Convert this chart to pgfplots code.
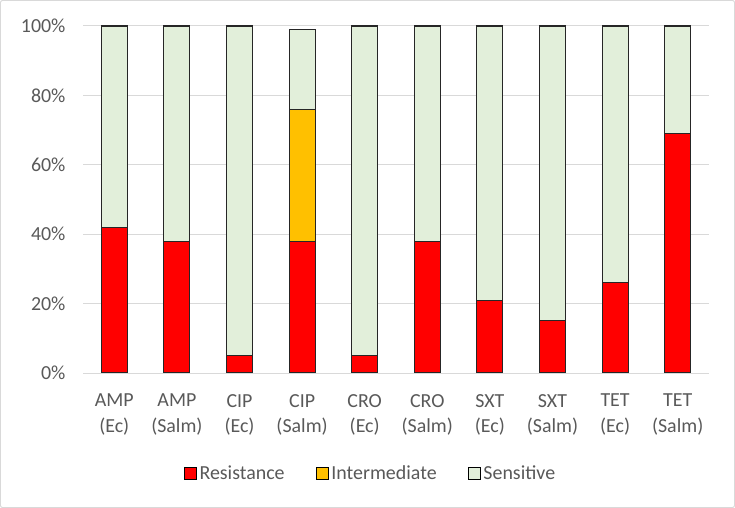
\documentclass[border=0pt]{standalone}
\usepackage{pgfplots}
\pgfplotsset{compat=1.18}
\usepackage{pgfplotstable}
\usepackage{fontspec}
\setmainfont{Carlito}
\definecolor{txt}{HTML}{595959}
\definecolor{gridc}{HTML}{D9D9D9}
\definecolor{resc}{HTML}{FF0000}
\definecolor{intc}{HTML}{FFC000}
\definecolor{senc}{HTML}{E2EFDA}
\pgfplotstableread{
x R I S
0 42 0 58
1 38 0 62
2 5 0 95
3 38 38 23
4 5 0 95
5 38 0 62
6 21 0 79
7 15 0 85
8 26 0 74
9 69 0 31
}\data
\begin{document}
\begin{tikzpicture}
\path[use as bounding box] (0,0) rectangle (735bp,508bp);
\draw[gridc, line width=1bp, rounded corners=2bp] (0.5bp,0.5bp) rectangle (734.5bp,507.5bp);
\begin{axis}[
  at={(83bp,135bp)}, anchor=south west,
  scale only axis, width=626bp, height=347bp,
  ybar stacked, bar width=26bp,
  xmin=-0.5, xmax=9.5, ymin=0, ymax=100,
  ytick={0,20,40,60,80,100},
  yticklabel={\pgfmathprintnumber{\tick}\%},
  /pgf/number format/assume math mode=true,
  xtick=data,
  xticklabels={{AMP\\(Ec)},{AMP\\(Salm)},{CIP\\(Ec)},{CIP\\(Salm)},{CRO\\(Ec)},{CRO\\(Salm)},{SXT\\(Ec)},{SXT\\(Salm)},{TET\\(Ec)},{TET\\(Salm)}},
  xticklabel style={align=center, font=\fontsize{20}{25.5}\selectfont, text=txt, inner sep=0pt, yshift=-21bp},
  yticklabel style={font=\fontsize{20}{24}\selectfont, text=txt, xshift=-14bp},
  major tick length=0pt,
  axis line style={draw=none},
  ymajorgrids, grid style={gridc, line width=1bp},
  legend style={draw=none, at={(0.46,-0.288)}, anchor=center, legend columns=-1,
    font=\fontsize{20}{24}\selectfont, text=txt,
    nodes={inner xsep=2.5bp},
    /tikz/every even column/.append style={column sep=29bp}},
  legend image code/.code={\draw[#1,draw=black,line width=0.8bp] (0bp,-6bp) rectangle (12bp,6bp);},
  every axis plot/.append style={draw=black!85, line width=1.1bp},
]
\addplot[fill=resc] table[x=x,y=R] {\data};
\addplot[fill=intc] table[x=x,y=I] {\data};
\addplot[fill=senc] table[x=x,y=S] {\data};
\legend{Resistance,Intermediate,Sensitive}
\end{axis}
\end{tikzpicture}
\end{document}
